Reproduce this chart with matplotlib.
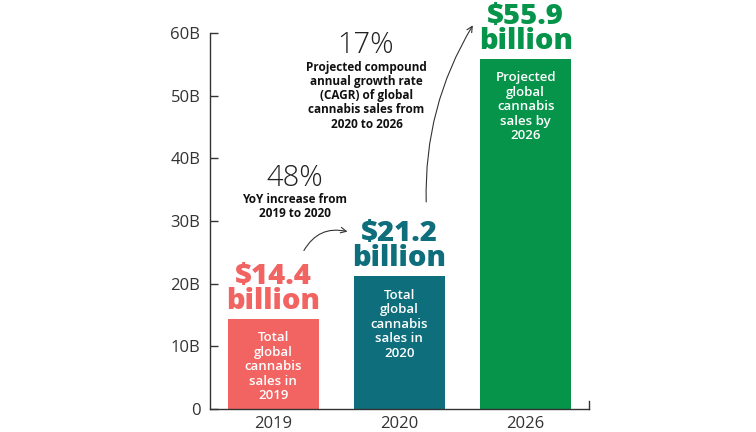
import matplotlib.pyplot as plt

years = ["2019", "2020", "2026"]
sales = [14.4, 21.2, 55.9]
value_labels = ["$14.4\nbillion", "$21.2\nbillion", "$55.9\nbillion"]
bar_notes = [
    "Total\nglobal\ncannabis\nsales in\n2019",
    "Total\nglobal\ncannabis\nsales in\n2020",
    "Projected\nglobal\ncannabis\nsales by\n2026",
]
colors = ["#F16462", "#0E6E7B", "#05944A"]
y_ticks = [0, 10, 20, 30, 40, 50, 60]
y_tick_labels = ["0", "10B", "20B", "30B", "40B", "50B", "60B"]

plt.rcParams["font.family"] = ["Open Sans", "DejaVu Sans"]

fig = plt.figure(figsize=(7.56, 4.32), dpi=100)
ax = fig.add_axes([0.2778, 0.0532, 0.501, 0.8704])

x = range(len(years))
ax.bar(x, sales, width=0.72, color=colors)

ax.set_xlim(-0.5, 2.5)
ax.set_ylim(0, 60)
ax.set_yticks(y_ticks)
ax.set_yticklabels(y_tick_labels)
ax.set_xticks(list(x))
ax.set_xticklabels(years)

ax.tick_params(axis="y", direction="in", length=6, width=1, color="#333333",
               labelsize=12, labelcolor="#333333", pad=7)
ax.tick_params(axis="x", length=0, labelsize=12, labelcolor="#333333", pad=5)

ax.spines["top"].set_visible(False)
ax.spines["right"].set_bounds(0, 1.3)
for side in ["left", "bottom", "right"]:
    ax.spines[side].set_color("#333333")
    ax.spines[side].set_linewidth(1)

for i, (v, lab, note, c) in enumerate(zip(sales, value_labels, bar_notes, colors)):
    ax.annotate(lab, xy=(i, v), xytext=(0, 2), textcoords="offset points",
                ha="center", va="bottom", fontsize=21, fontweight="extra bold",
                color=c, linespacing=0.82, annotation_clip=False)
    ax.annotate(note, xy=(i, v), xytext=(0, -9), textcoords="offset points",
                ha="center", va="top", fontsize=9.5, fontweight="semibold",
                color="white", linespacing=1.15)

# growth annotations
ax.text(0.17, 36.8, "48%", ha="center", va="center", fontsize=21,
        fontweight="light", color="#222222")
ax.text(0.17, 32.3, "YoY increase from\n2019 to 2020", ha="center", va="center",
        fontsize=8.5, fontweight="bold", color="#111111", linespacing=1.15)

ax.text(0.73, 58.0, "17%", ha="center", va="center", fontsize=21,
        fontweight="light", color="#222222", clip_on=False)
ax.text(0.74, 50.0, "Projected compound\nannual growth rate\n(CAGR) of global\ncannabis sales from\n2020 to 2026",
        ha="center", va="center", fontsize=8.5, fontweight="bold",
        color="#111111", linespacing=1.12)

ax.annotate("", xy=(0.61, 28.2), xytext=(0.233, 24.9),
            arrowprops=dict(arrowstyle="->", color="#333333", lw=0.8,
                            connectionstyle="arc3,rad=-0.4"))
ax.annotate("", xy=(1.593, 61.6), xytext=(1.213, 32.6), annotation_clip=False,
            arrowprops=dict(arrowstyle="->", color="#333333", lw=0.8,
                            connectionstyle="arc3,rad=-0.15"))

fig.savefig("out.png", dpi=100)
plt.close()
